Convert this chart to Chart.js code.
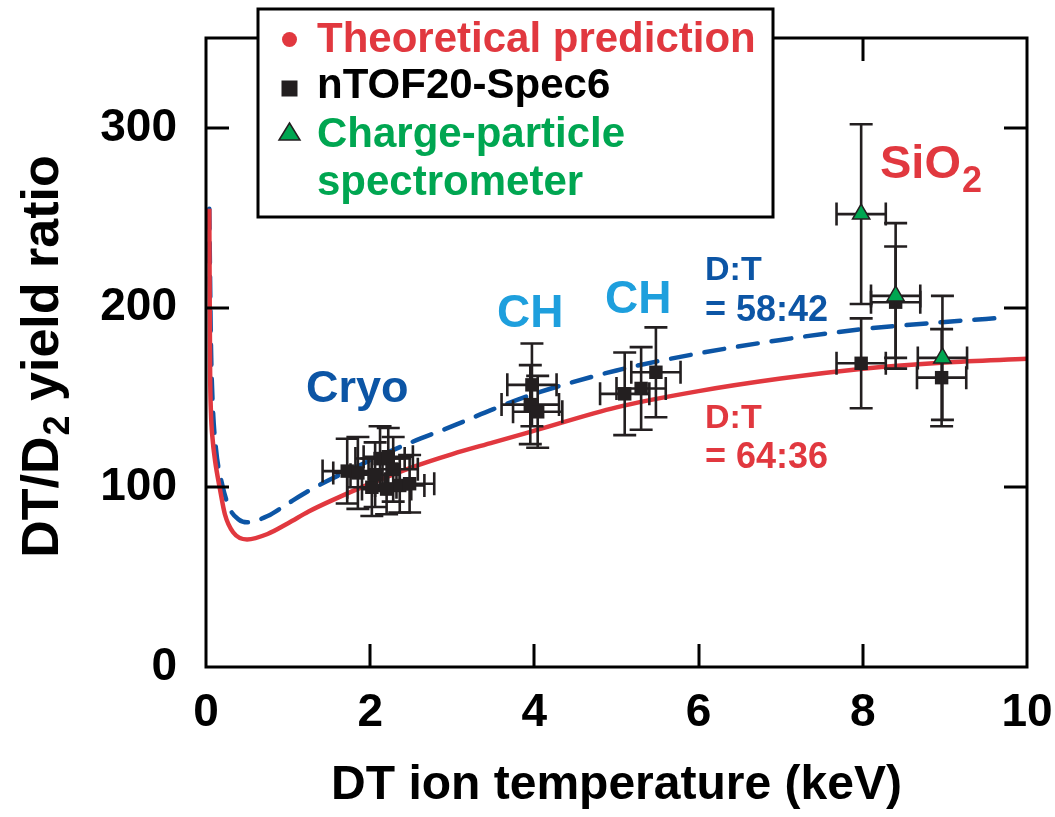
<!DOCTYPE html>
<html>
<head>
<meta charset="utf-8">
<title>DT/D2 yield ratio vs ion temperature</title>
<script src="https://cdn.jsdelivr.net/npm/chart.js@4.4.1/dist/chart.umd.min.js"></script>
<style>
  html, body { margin: 0; padding: 0; background: #fff; }
  #wrap { width: 1055px; height: 817px; }
</style>
</head>
<body>
<div id="wrap"><canvas id="ratioChart" width="1055" height="817"></canvas></div>
<script>
const FONT = "'Liberation Sans', Arial, Helvetica, sans-serif";
const RED = '#e1383f';
const BLUE = '#0c55a5';
const LIGHT_BLUE = '#1e9fdd';
const GREEN = '#00a651';
const INK = '#231f20';

// theory, D:T = 64:36
const redT = [0.04, 0.045, 0.05, 0.06, 0.08, 0.11, 0.17, 0.23, 0.33, 0.5, 0.75, 1, 1.25, 1.5, 2, 2.5, 3, 3.5, 4, 5, 6, 7, 8, 9, 10];
const redRatio = [255, 205, 165, 142, 127, 115, 99, 85, 75, 71, 74, 80, 86.5, 92, 102, 111, 118.5, 125, 131.5, 144.5, 153.5, 160.5, 166, 169.5, 171.5];

// theory, D:T = 58:42
const blueT = [0.04, 0.05, 0.06, 0.08, 0.12, 0.2, 0.29, 0.4, 0.5, 0.75, 1, 1.25, 1.5, 2, 2.5, 3, 3.5, 4, 5, 6, 7, 8, 9, 9.75];
const blueRatio = [255, 215, 180, 148, 122, 101, 88, 82, 80.5, 84, 91, 98, 104, 115, 125, 134, 143.5, 152, 165, 174.5, 182, 188, 192, 194.5];

// nTOF20-Spec6 shots
const ntofT = [1.72, 1.85, 2.02, 2.12, 2.22, 2.28, 2.20, 2.36, 2.48, 2.06, 3.97, 3.95, 4.04, 5.10, 5.30, 5.48, 7.98, 8.40, 8.96];
const ntofRatio = [109, 108, 100, 116, 117, 110, 99, 101, 102, 107, 157, 146, 142, 152, 155, 164, 169, 203, 161];
const ntofTErr = [0.3, 0.3, 0.3, 0.3, 0.3, 0.3, 0.3, 0.3, 0.3, 0.3, 0.3, 0.35, 0.3, 0.3, 0.3, 0.3, 0.3, 0.3, 0.3];
const ntofRatioErr = [18, 20, 16, 18, 16, 18, 14, 15, 16, 18, 23, 22, 20, 23, 23, 25, 25, 31, 27];

// charge-particle spectrometer shots
const cpsT = [7.98, 8.40, 8.97];
const cpsRatio = [252, 206.5, 172];
const cpsTErr = [0.3, 0.3, 0.3];
const cpsRatioErr = [50, 40.5, 34.5];

const xTicks = [0, 2, 4, 6, 8, 10];
const yTicks = [0, 100, 200, 300];

const toPoints = (xs, ys) => xs.map((x, i) => ({ x: x, y: ys[i] }));

const CAP = 11.5;
const TICK_LEN = 23;

// crossed error bars drawn just before each measured dataset's markers
const errorBars = {
    id: 'errorBars',
    beforeDatasetDraw(chart, args) {
        const ds = chart.data.datasets[args.index];
        if (!ds.errX) return;
        const xs = chart.scales.x, ys = chart.scales.y;
        const ctx = chart.ctx;
        ctx.save();
        ctx.strokeStyle = INK;
        ctx.lineWidth = 2.6;
        ds.data.forEach((p, i) => {
            const px = xs.getPixelForValue(p.x), py = ys.getPixelForValue(p.y);
            const x0 = xs.getPixelForValue(p.x - ds.errX[i]);
            const x1 = xs.getPixelForValue(p.x + ds.errX[i]);
            const y0 = ys.getPixelForValue(p.y + ds.errY[i]);
            const y1 = ys.getPixelForValue(p.y - ds.errY[i]);
            ctx.beginPath();
            ctx.moveTo(x0, py); ctx.lineTo(x1, py);
            ctx.moveTo(px, y0); ctx.lineTo(px, y1);
            ctx.moveTo(x0, py - CAP); ctx.lineTo(x0, py + CAP);
            ctx.moveTo(x1, py - CAP); ctx.lineTo(x1, py + CAP);
            ctx.moveTo(px - CAP, y0); ctx.lineTo(px + CAP, y0);
            ctx.moveTo(px - CAP, y1); ctx.lineTo(px + CAP, y1);
            ctx.stroke();
        });
        ctx.restore();
    }
};

// text with a lowered subscript tail, e.g. SiO2
function subText(ctx, main, sub, x, y, size, subSize, drop) {
    ctx.font = `bold ${size}px ${FONT}`;
    ctx.fillText(main, x, y);
    const w = ctx.measureText(main).width;
    ctx.font = `bold ${subSize}px ${FONT}`;
    ctx.fillText(sub, x + w + 1, y + drop);
}

// box with inward ticks, annotations, y title and the legend
const decorations = {
    id: 'decorations',
    afterDatasetsDraw(chart) {
        const ctx = chart.ctx;
        const { left, right, top, bottom } = chart.chartArea;
        const xs = chart.scales.x, ys = chart.scales.y;
        ctx.save();
        ctx.strokeStyle = '#000';
        ctx.lineWidth = 3;
        ctx.strokeRect(left, top, right - left, bottom - top);
        ctx.beginPath();
        xTicks.forEach(v => {
            const px = Math.round(xs.getPixelForValue(v));
            if (v === 0 || v === 10) return;
            ctx.moveTo(px, bottom); ctx.lineTo(px, bottom - TICK_LEN);
            ctx.moveTo(px, top); ctx.lineTo(px, top + TICK_LEN);
        });
        yTicks.forEach(v => {
            if (v === 0) return;
            const py = Math.round(ys.getPixelForValue(v));
            ctx.moveTo(left, py); ctx.lineTo(left + TICK_LEN, py);
            ctx.moveTo(right, py); ctx.lineTo(right - TICK_LEN, py);
        });
        ctx.stroke();

        // in-plot labels
        ctx.textAlign = 'left';
        ctx.textBaseline = 'alphabetic';
        ctx.fillStyle = BLUE;
        ctx.font = `bold 45px ${FONT}`;
        ctx.fillText('Cryo', 306, 402);
        ctx.fillStyle = LIGHT_BLUE;
        ctx.font = `bold 46px ${FONT}`;
        ctx.fillText('CH', 497, 327);
        ctx.fillText('CH', 605, 313);
        ctx.fillStyle = RED;
        subText(ctx, 'SiO', '2', 880, 178, 47, 36, 14);

        ctx.font = `bold 34px ${FONT}`;
        ctx.fillStyle = BLUE;
        ctx.fillText('D:T', 705, 280);
        ctx.font = `bold 36px ${FONT}`;
        ctx.fillText('= 58:42', 705, 321);
        ctx.fillStyle = RED;
        ctx.font = `bold 34px ${FONT}`;
        ctx.fillText('D:T', 705, 428);
        ctx.font = `bold 36px ${FONT}`;
        ctx.fillText('= 64:36', 705, 468);

        // y axis title, rotated
        ctx.save();
        ctx.translate(58, 357);
        ctx.rotate(-Math.PI / 2);
        ctx.fillStyle = '#000';
        ctx.font = `bold 52px ${FONT}`;
        const partA = 'DT/D', partB = ' yield ratio';
        const wA = ctx.measureText(partA).width;
        const wB = ctx.measureText(partB).width;
        ctx.font = `bold 36px ${FONT}`;
        const wS = ctx.measureText('2').width;
        const start = -(wA + wS + wB) / 2;
        ctx.font = `bold 52px ${FONT}`;
        ctx.fillText(partA, start, 0);
        ctx.font = `bold 36px ${FONT}`;
        ctx.fillText('2', start + wA + 1, 11);
        ctx.font = `bold 52px ${FONT}`;
        ctx.fillText(partB, start + wA + wS + 1, 0);
        ctx.restore();

        // legend box
        ctx.fillStyle = '#fff';
        ctx.fillRect(258, 9, 515, 208);
        ctx.lineWidth = 3;
        ctx.strokeStyle = '#000';
        ctx.strokeRect(258, 9, 515, 208);

        ctx.font = `bold 42px ${FONT}`;
        ctx.fillStyle = RED;
        ctx.beginPath();
        ctx.arc(289.5, 39.5, 7.5, 0, Math.PI * 2);
        ctx.fill();
        ctx.fillText('Theoretical prediction', 317, 52);

        ctx.fillStyle = INK;
        ctx.fillRect(281.5, 80.5, 16, 16);
        ctx.fillStyle = '#000';
        ctx.fillText('nTOF20-Spec6', 317, 98);

        ctx.fillStyle = GREEN;
        ctx.beginPath();
        ctx.moveTo(289.5, 123);
        ctx.lineTo(300, 140);
        ctx.lineTo(279, 140);
        ctx.closePath();
        ctx.fill();
        ctx.lineWidth = 1.5;
        ctx.strokeStyle = INK;
        ctx.stroke();
        ctx.fillStyle = GREEN;
        ctx.fillText('Charge-particle', 317, 147);
        ctx.fillText('spectrometer', 317, 195);
        ctx.restore();
    }
};

const ctx = document.getElementById('ratioChart');
new Chart(ctx, {
    type: 'scatter',
    data: {
        datasets: [
            {
                label: 'D:T = 58:42',
                data: toPoints(blueT, blueRatio),
                showLine: true,
                borderColor: BLUE,
                borderWidth: 4.5,
                borderDash: [20, 14],
                borderCapStyle: 'round',
                pointRadius: 0,
                cubicInterpolationMode: 'monotone',
                order: 4
            },
            {
                label: 'Theoretical prediction',
                data: toPoints(redT, redRatio),
                showLine: true,
                borderColor: RED,
                borderWidth: 4.5,
                pointRadius: 0,
                cubicInterpolationMode: 'monotone',
                order: 3
            },
            {
                label: 'nTOF20-Spec6',
                data: toPoints(ntofT, ntofRatio),
                errX: ntofTErr,
                errY: ntofRatioErr,
                pointStyle: 'rect',
                pointRadius: 9.5,
                backgroundColor: INK,
                borderWidth: 0,
                order: 2
            },
            {
                label: 'Charge-particle spectrometer',
                data: toPoints(cpsT, cpsRatio),
                errX: cpsTErr,
                errY: cpsRatioErr,
                pointStyle: 'triangle',
                pointRadius: 10,
                backgroundColor: GREEN,
                borderColor: INK,
                borderWidth: 1.5,
                order: 1
            }
        ]
    },
    options: {
        responsive: false,
        animation: false,
        layout: { autoPadding: false, padding: { left: 0, top: 38, right: 28, bottom: 0 } },
        plugins: {
            legend: { display: false },
            tooltip: { enabled: false }
        },
        scales: {
            x: {
                type: 'linear',
                min: 0,
                max: 10,
                afterBuildTicks: s => { s.ticks = xTicks.map(v => ({ value: v })); },
                afterFit: s => { s.height = 150; s.paddingLeft = 0; s.paddingRight = 0; },
                grid: { display: false, drawTicks: false },
                border: { display: false },
                ticks: {
                    color: '#000',
                    padding: 19,
                    maxRotation: 0,
                    font: { family: FONT, size: 46, weight: 'bold' }
                },
                title: {
                    display: true,
                    text: 'DT ion temperature (keV)',
                    color: '#000',
                    padding: { top: 0, bottom: 2 },
                    font: { family: FONT, size: 48, weight: 'bold' }
                }
            },
            y: {
                type: 'linear',
                min: 0,
                max: 350,
                afterBuildTicks: s => { s.ticks = yTicks.map(v => ({ value: v })); },
                afterFit: s => { s.width = 206; s.paddingTop = 0; s.paddingBottom = 0; },
                grid: { display: false, drawTicks: false },
                border: { display: false },
                ticks: {
                    color: '#000',
                    padding: 29,
                    font: { family: FONT, size: 46, weight: 'bold' }
                }
            }
        }
    },
    plugins: [errorBars, decorations]
});
</script>
</body>
</html>
